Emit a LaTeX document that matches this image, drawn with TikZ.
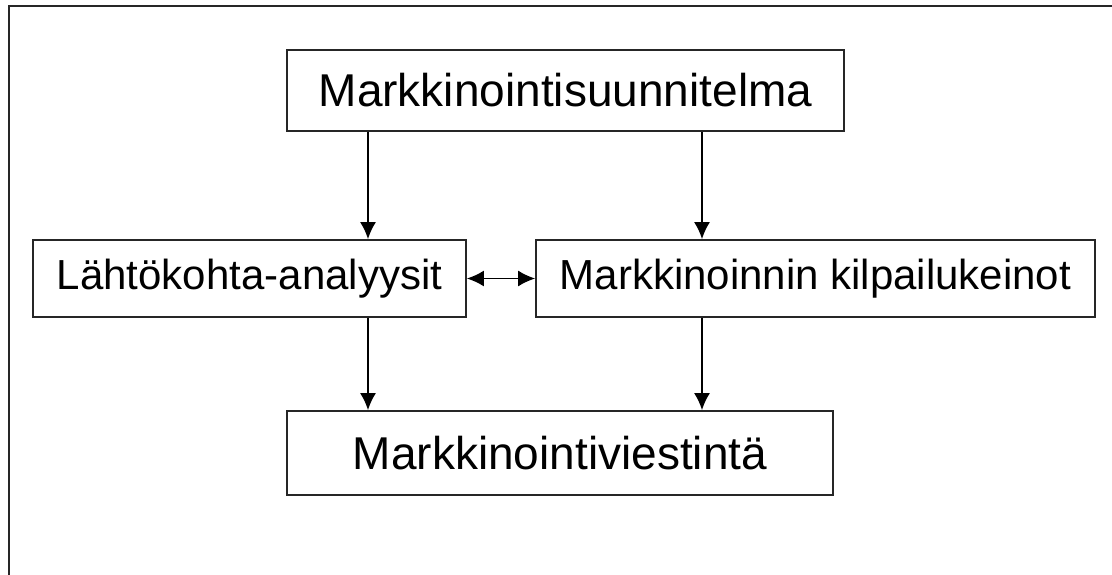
\documentclass[tikz,border=0pt]{standalone}
\usepackage{fontspec}
\setmainfont{Liberation Sans}
\usetikzlibrary{arrows.meta}
\begin{document}
\begin{tikzpicture}[x=1pt,y=-1pt,
  box/.style={draw=black!85,line width=1.8pt,inner sep=0pt,anchor=center,align=center},
  big/.style={font=\fontsize{46}{50}\selectfont},
  mid/.style={font=\fontsize{42}{46}\selectfont},
  arr/.style={line width=1.6pt,-{Latex[length=17pt,width=16pt]}},
  darr/.style={line width=1.6pt,{Latex[length=17pt,width=16pt]}-{Latex[length=17pt,width=16pt]}}]
\useasboundingbox (0,0) rectangle (1112,575);
\draw[line width=2pt,black!85] (9,580) -- (9,6) -- (1115,6);
\node[box,big,minimum width=557pt,minimum height=81pt] (top) at (565.5,90.5) {Markkinointisuunnitelma};
\node[box,mid,minimum width=433pt,minimum height=77pt] (left) at (249.5,278.5) {Lähtökohta-analyysit};
\node[box,mid,minimum width=559pt,minimum height=77pt] (right) at (815.5,278.5) {Markkinoinnin kilpailukeinot};
\node[box,big,minimum width=546pt,minimum height=84pt] (bottom) at (560,453) {Markkinointiviestintä};
\coordinate (xa) at (368,0);
\coordinate (xb) at (702,0);
\draw[arr] (top.south -| xa) -- (left.north -| xa);
\draw[arr] (top.south -| xb) -- (right.north -| xb);
\draw[arr] (left.south -| xa) -- (bottom.north -| xa);
\draw[arr] (right.south -| xb) -- (bottom.north -| xb);
\draw[darr] (left.east) -- (right.west);
\end{tikzpicture}
\end{document}
